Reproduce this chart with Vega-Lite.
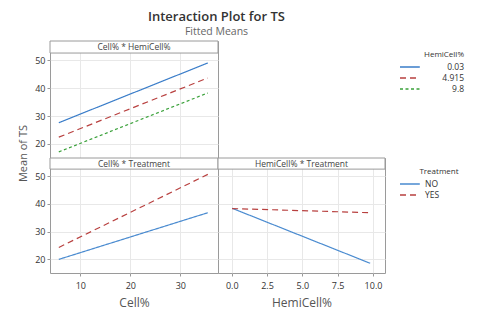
{
  "$schema": "https://vega.github.io/schema/vega-lite/v6.json",
  "padding": {"left": 16, "top": 10, "right": 5, "bottom": 5},
  "background": "white",
  "title": {"text": "Interaction Plot for TS", "subtitle": "Fitted Means", "anchor": "middle", "dx": -24, "font": "Open Sans", "fontSize": 13, "fontWeight": 600, "color": "#333333", "subtitleFont": "Open Sans", "subtitleFontSize": 10.5, "subtitleColor": "#666666", "subtitlePadding": 3, "offset": 3},
  "datasets": {
    "top": [
      {"cell": 5.7, "ts": 27.6, "hemi": "0.03"},
      {"cell": 35.5, "ts": 49.1, "hemi": "0.03"},
      {"cell": 5.7, "ts": 22.4, "hemi": "4.915"},
      {"cell": 35.5, "ts": 43.7, "hemi": "4.915"},
      {"cell": 5.7, "ts": 17.1, "hemi": "9.8"},
      {"cell": 35.5, "ts": 38.3, "hemi": "9.8"}
    ],
    "cellTreat": [
      {"cell": 5.7, "ts": 20.0, "treatment": "NO"},
      {"cell": 35.5, "ts": 36.8, "treatment": "NO"},
      {"cell": 5.7, "ts": 24.3, "treatment": "YES"},
      {"cell": 35.5, "ts": 50.6, "treatment": "YES"}
    ],
    "hemiTreat": [
      {"hemicell": 0.03, "ts": 38.4, "treatment": "NO"},
      {"hemicell": 9.8, "ts": 18.6, "treatment": "NO"},
      {"hemicell": 0.03, "ts": 38.3, "treatment": "YES"},
      {"hemicell": 9.8, "ts": 36.8, "treatment": "YES"}
    ],
    "h1": [{"label": "Cell% * HemiCell%"}],
    "h2": [{"label": "Cell% * Treatment"}],
    "h3": [{"label": "HemiCell% * Treatment"}]
  },
  "vconcat": [
    {
      "width": 168, "height": 117,
      "layer": [
        {
          "data": {"name": "top"},
          "mark": {"type": "line", "strokeWidth": 1.2},
          "encoding": {
            "x": {"field": "cell", "type": "quantitative", "scale": {"domain": [3.94, 37.54], "nice": false, "zero": false},
                  "axis": {"values": [10, 20, 30], "labels": false, "ticks": false, "title": null}},
            "y": {"field": "ts", "type": "quantitative", "scale": {"domain": [14.9, 57.0], "nice": false, "zero": false},
                  "axis": {"values": [20, 30, 40, 50], "labelOverlap": false, "title": "Mean of TS", "titleFontSize": 11, "titleX": -27, "titleY": 112, "titleAngle": 270, "titleAlign": "center", "titleBaseline": "middle"}},
            "color": {"field": "hemi", "type": "nominal", "scale": {"domain": ["0.03", "4.915", "9.8"], "range": ["#3a7dc9", "#b8403f", "#3aa13a"]},
                      "legend": {"title": "HemiCell%", "orient": "none", "legendX": 349, "legendY": 9.5, "titleAnchor": "end", "titleFontSize": 8, "labelAlign": "right", "labelOffset": 52}},
            "strokeDash": {"field": "hemi", "type": "nominal", "scale": {"domain": ["0.03", "4.915", "9.8"], "range": [[1, 0], [6, 4], [3, 2.5]]},
                      "legend": {"title": "HemiCell%", "orient": "none", "legendX": 349, "legendY": 9.5, "titleAnchor": "end", "titleFontSize": 8, "labelAlign": "right", "labelOffset": 52}}
          }
        },
        {
          "data": {"name": "h1"},
          "mark": {"type": "rect", "fill": "white", "stroke": "#9a9a9a", "strokeWidth": 1},
          "encoding": {
            "x": {"datum": 3.94, "type": "quantitative", "axis": {"values": [10, 20, 30], "labels": false, "ticks": false, "title": null}}, "x2": {"datum": 37.54},
            "y": {"datum": 52.67, "type": "quantitative", "axis": {"values": [20, 30, 40, 50], "labelOverlap": false, "title": "Mean of TS", "titleFontSize": 11, "titleX": -27, "titleY": 112, "titleAngle": 270, "titleAlign": "center", "titleBaseline": "middle"}}, "y2": {"datum": 57.0}
          }
        },
        {
          "data": {"name": "h1"},
          "mark": {"type": "text", "fontSize": 8.5, "color": "#444444", "font": "Open Sans", "baseline": "middle"},
          "encoding": {
            "x": {"datum": 20.74, "type": "quantitative", "axis": {"values": [10, 20, 30], "labels": false, "ticks": false, "title": null}},
            "y": {"datum": 54.8, "type": "quantitative", "axis": {"values": [20, 30, 40, 50], "labelOverlap": false, "title": "Mean of TS", "titleFontSize": 11, "titleX": -27, "titleY": 112, "titleAngle": 270, "titleAlign": "center", "titleBaseline": "middle"}},
            "text": {"field": "label"}
          }
        }
      ]
    },
    {
      "hconcat": [
        {
          "width": 168, "height": 115,
          "layer": [
            {
              "data": {"name": "cellTreat"},
              "mark": {"type": "line", "strokeWidth": 1.2},
              "encoding": {
                "x": {"field": "cell", "type": "quantitative", "scale": {"domain": [3.94, 37.54], "nice": false, "zero": false},
                      "axis": {"values": [10, 20, 30], "title": "Cell%"}},
                "y": {"field": "ts", "type": "quantitative", "scale": {"domain": [15.1, 56.5], "nice": false, "zero": false},
                      "axis": {"values": [20, 30, 40, 50], "labelOverlap": false, "title": null}},
                "color": {"field": "treatment", "type": "nominal", "scale": {"domain": ["NO", "YES"], "range": ["#4a8bd0", "#b8403f"]},
                          "legend": {"title": "Treatment", "orient": "none", "legendX": 349, "legendY": 9.5, "titleFontSize": 8, "titleAnchor": "end", "titleAlign": "center"}},
                "strokeDash": {"field": "treatment", "type": "nominal", "scale": {"domain": ["NO", "YES"], "range": [[1, 0], [6, 4]]},
                          "legend": {"title": "Treatment", "orient": "none", "legendX": 349, "legendY": 9.5, "titleFontSize": 8, "titleAnchor": "end", "titleAlign": "center"}}
              }
            },
            {
              "data": {"name": "h2"},
              "mark": {"type": "rect", "fill": "white", "stroke": "#9a9a9a", "strokeWidth": 1},
              "encoding": {
                "x": {"datum": 3.94, "type": "quantitative", "axis": {"values": [10, 20, 30], "title": "Cell%"}}, "x2": {"datum": 37.54},
                "y": {"datum": 52.5, "type": "quantitative", "axis": {"values": [20, 30, 40, 50], "labelOverlap": false, "title": null}}, "y2": {"datum": 56.5}
              }
            },
            {
              "data": {"name": "h2"},
              "mark": {"type": "text", "fontSize": 8.5, "color": "#444444", "font": "Open Sans", "baseline": "middle"},
              "encoding": {
                "x": {"datum": 20.74, "type": "quantitative", "axis": {"values": [10, 20, 30], "title": "Cell%"}},
                "y": {"datum": 54.5, "type": "quantitative", "axis": {"values": [20, 30, 40, 50], "labelOverlap": false, "title": null}},
                "text": {"field": "label"}
              }
            }
          ]
        },
        {
          "width": 167, "height": 115,
          "layer": [
            {
              "data": {"name": "hemiTreat"},
              "mark": {"type": "line", "strokeWidth": 1.2},
              "encoding": {
                "x": {"field": "hemicell", "type": "quantitative", "scale": {"domain": [-0.97, 10.85], "nice": false, "zero": false},
                      "axis": {"values": [0, 2.5, 5, 7.5, 10], "format": ".1f", "title": "HemiCell%"}},
                "y": {"field": "ts", "type": "quantitative", "scale": {"domain": [15.1, 56.5], "nice": false, "zero": false},
                      "axis": {"values": [20, 30, 40, 50], "labels": false, "ticks": false, "title": null}},
                "color": {"field": "treatment", "type": "nominal", "scale": {"domain": ["NO", "YES"], "range": ["#4a8bd0", "#b8403f"]},
                          "legend": {"title": "Treatment", "orient": "none", "legendX": 349, "legendY": 9.5, "titleFontSize": 8, "titleAnchor": "end", "titleAlign": "center"}},
                "strokeDash": {"field": "treatment", "type": "nominal", "scale": {"domain": ["NO", "YES"], "range": [[1, 0], [6, 4]]},
                          "legend": {"title": "Treatment", "orient": "none", "legendX": 349, "legendY": 9.5, "titleFontSize": 8, "titleAnchor": "end", "titleAlign": "center"}}
              }
            },
            {
              "data": {"name": "h3"},
              "mark": {"type": "rect", "fill": "white", "stroke": "#9a9a9a", "strokeWidth": 1},
              "encoding": {
                "x": {"datum": -0.97, "type": "quantitative", "axis": {"values": [0, 2.5, 5, 7.5, 10], "format": ".1f", "title": "HemiCell%"}}, "x2": {"datum": 10.85},
                "y": {"datum": 52.5, "type": "quantitative", "axis": {"values": [20, 30, 40, 50], "labels": false, "ticks": false, "title": null}}, "y2": {"datum": 56.5}
              }
            },
            {
              "data": {"name": "h3"},
              "mark": {"type": "text", "fontSize": 8.5, "color": "#444444", "font": "Open Sans", "baseline": "middle"},
              "encoding": {
                "x": {"datum": 4.94, "type": "quantitative", "axis": {"values": [0, 2.5, 5, 7.5, 10], "format": ".1f", "title": "HemiCell%"}},
                "y": {"datum": 54.5, "type": "quantitative", "axis": {"values": [20, 30, 40, 50], "labels": false, "ticks": false, "title": null}},
                "text": {"field": "label"}
              }
            }
          ]
        }
      ],
      "spacing": 0, "bounds": "flush"
    }
  ],
  "spacing": 0,
  "bounds": "flush",
  "resolve": {"scale": {"color": "independent", "strokeDash": "independent"}},
  "config": {
    "font": "Open Sans",
    "view": {"stroke": "#9a9a9a", "strokeWidth": 1},
    "axis": {"domain": false, "grid": true, "gridColor": "#e8e8e8", "tickColor": "#999999", "tickSize": 3, "labelFontSize": 9, "labelColor": "#333333", "labelFont": "Open Sans", "titleFont": "Open Sans", "titleFontSize": 12, "titleFontWeight": "normal", "titleColor": "#555555", "labelPadding": 2},
    "axisX": {"titlePadding": 7, "labelPadding": 5},
    "legend": {"symbolType": "M-1,0H2.6", "symbolSize": 121, "symbolStrokeWidth": 1.5, "labelOffset": 13, "labelFontSize": 8.5, "titleFontSize": 8.5, "titleFontWeight": "normal", "titleColor": "#333333", "labelColor": "#333333", "rowPadding": 0, "titlePadding": 2, "labelFont": "Open Sans", "titleFont": "Open Sans"}
  }
}
